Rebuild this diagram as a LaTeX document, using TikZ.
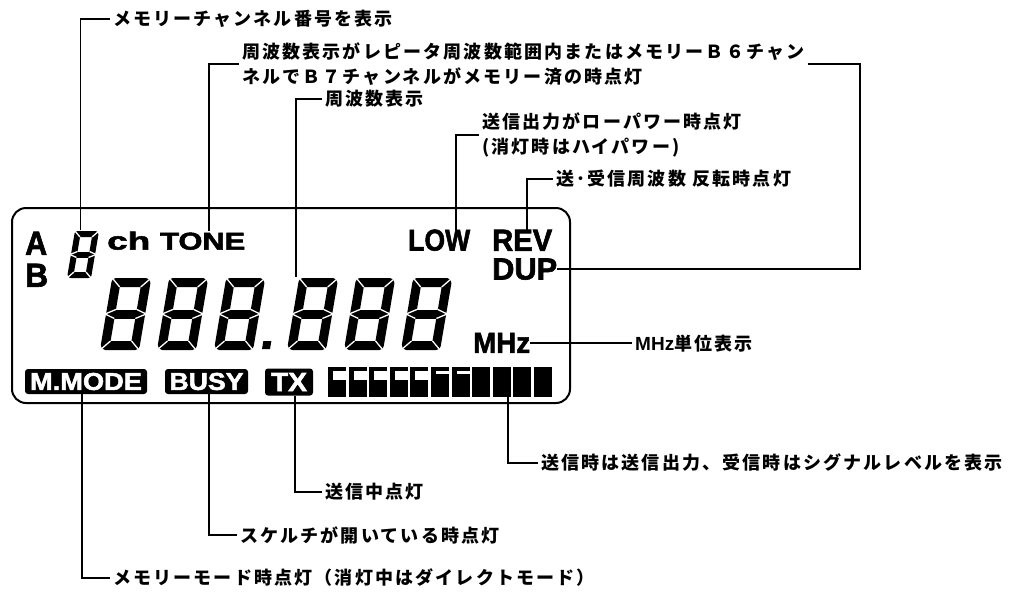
\documentclass[tikz,border=0pt]{standalone}
\usepackage{fontspec}
\usepackage{graphicx}
\setmainfont{Liberation Sans}
\newfontfamily\lcdf[BoldFeatures={FakeBold=2}]{Liberation Sans}
\newfontfamily\jp[LetterSpace=12]{Noto Sans CJK JP}
\newcommand\segeight[5]{%
 \begin{scope}[shift={(#1,#2)},xslant=0.17]
  \draw[line width=#5pt,line join=round] (#5/2,-#5/2) rectangle (#3-#5/2,-#4+#5/2);
  \draw[line width=#5pt] (#5/2,-#4/2) -- (#3-#5/2,-#4/2);
  \begin{scope}[white,line width=1.3pt]
   \draw (-1,1) -- (#5,-#5);
   \draw (#3+1,1) -- (#3-#5,-#5);
   \draw (-1,-#4-1) -- (#5,-#4+#5);
   \draw (#3+1,-#4-1) -- (#3-#5,-#4+#5);
   \draw (-1,-#4/2) -- (#5,-#4/2-#5/2);
   \draw (-1,-#4/2) -- (#5,-#4/2+#5/2);
   \draw (#3+1,-#4/2) -- (#3-#5,-#4/2-#5/2);
   \draw (#3+1,-#4/2) -- (#3-#5,-#4/2+#5/2);
  \end{scope}
 \end{scope}}
\tikzset{
  jl/.style={anchor=west,inner xsep=3pt,inner ysep=0pt,font=\jp\bfseries\fontsize{18}{24.5}\selectfont},
  conn/.style={line width=1.7pt,line join=miter},
  lcdt/.style={anchor=south west,inner sep=0pt,font=\lcdf\bfseries},
  stat/.style={fill=black,text=white,rounded corners=3pt,inner sep=0pt,font=\lcdf\bfseries},
}
\begin{document}
\begin{tikzpicture}[x=1pt,y=-1pt]
\useasboundingbox (0,0) rectangle (1010,592);
\fill[white] (0,0) rectangle (1010,592);
% LCD frame
\node[draw,line width=2pt,rounded corners=14pt,minimum width=558pt,minimum height=195pt,inner sep=0pt] (lcd) at (291,305.5) {};
% LCD labels
\node[lcdt] (nA) at (25,255) {\resizebox{22pt}{23pt}{A}};
\node[lcdt] (nB) at (25,287) {\resizebox{23pt}{23pt}{B}};
\node[lcdt] (nch) at (107,250) {\resizebox{43pt}{18pt}{ch}};
\node[lcdt] (nTONE) at (160,250) {\resizebox{85pt}{17pt}{TONE}};
\node[lcdt] (nLOW) at (408,251) {\resizebox{62pt}{21pt}{LOW}};
\node[lcdt] (nREV) at (492,251) {\resizebox{60pt}{21pt}{REV}};
\node[lcdt] (nDUP) at (492,280) {\resizebox{65pt}{21pt}{DUP}};
\node[lcdt] (nMHz) at (473,353) {\resizebox{57pt}{20pt}{MHz}};
% status boxes
\node[stat,minimum width=122pt,minimum height=25pt] (nMM) at (86,381.5) {\resizebox{112pt}{17pt}{M.MODE}};
\node[stat,minimum width=83pt,minimum height=25pt] (nBUSY) at (206.5,381.5) {\resizebox{74pt}{17pt}{BUSY}};
\node[stat,minimum width=48pt,minimum height=27pt] (nTX) at (289,382) {\resizebox{36pt}{18pt}{TX}};
% seven segment digits
\segeight{67}{278}{24}{47}{6}
\segeight{100}{350}{39}{72}{9}
\segeight{157}{350}{39}{72}{9}
\segeight{214}{350}{39}{72}{9}
\segeight{287}{350}{39}{72}{9}
\segeight{344}{350}{39}{72}{9}
\segeight{401}{350}{39}{72}{9}
\begin{scope}[shift={(262,349)},xslant=0.17]
 \fill (0,0) rectangle (8,-8);
\end{scope}
% bar meter
\foreach \i in {0,...,10}{\fill (328+\i*20.6,367) rectangle ++(18,30);}
\foreach \i in {0,...,4}{\fill[white] (333+\i*20.6,371) rectangle ++(14,9);}
\foreach \i in {5,6}{\fill[white] (333+\i*20.6,371) rectangle ++(14,3);}
% tap coordinates
\coordinate (s8top) at (80.5,230);
\coordinate (toneTop) at (209,231);
\coordinate (d4top) at (296,277);
\coordinate (lowTop) at (456,230);
\coordinate (revTop) at (527,230);
\coordinate (rcx) at (860,0);
\coordinate (barTap) at (508,397);
\coordinate (txTap) at (295,396);
\coordinate (busyTap) at (209,394);
\coordinate (mmTap) at (82,394);
% labels
\node[jl] (tMem) at (110,19) {メモリーチャンネル番号を表示};
\node[jl,align=left] (tTone) at (239,64) {周波数表示がレピータ周波数範囲内またはメモリーＢ６チャン\\ネルでＢ７チャンネルがメモリー済の時点灯};
\node[jl] (tFreq) at (322,99) {周波数表示};
\node[jl,align=left] (tLow) at (479,135) {送信出力がローパワー時点灯\\(消灯時はハイパワー)};
\node[jl] (tRev) at (553,179) {送･受信周波数 反転時点灯};
\node[jl] (tMHzU) at (632,344) {{\setmainfont{Liberation Sans}\bfseries\fontsize{19}{20}\selectfont MHz}単位表示};
\node[jl] (tSig) at (538,463) {送信時は送信出力、受信時はシグナルレベルを表示};
\node[jl] (tTX) at (322,492) {送信中点灯};
\node[jl] (tBusy) at (237,535) {スケルチが開いている時点灯};
\node[jl] (tMM) at (110,578) {メモリーモード時点灯（消灯中はダイレクトモード）};
% connectors
\draw[conn] (s8top) |- (tMem.west);
\draw[conn] (toneTop) |- (tTone.west);
\draw[conn] (d4top) |- (tFreq.west);
\draw[conn] (lowTop) |- (tLow.west);
\draw[conn] (revTop) |- (tRev.west);
\draw[conn] (tTone.east) -- (tTone.east -| rcx) |- (nDUP.east);
\draw[conn] (nMHz.east) -- (nMHz.east -| tMHzU.west);
\draw[conn] (barTap) |- (tSig.west);
\draw[conn] (txTap) |- (tTX.west);
\draw[conn] (busyTap) |- (tBusy.west);
\draw[conn] (mmTap) |- (tMM.west);
\end{tikzpicture}
\end{document}
